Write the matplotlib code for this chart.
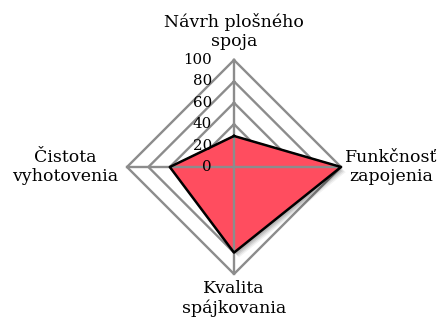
import numpy as np
import matplotlib
matplotlib.use('agg')
import matplotlib.pyplot as plt
from matplotlib.transforms import ScaledTranslation

categories = ['Návrh plošného\nspoja', 'Funkčnosť\nzapojenia', 'Kvalita\nspájkovania', 'Čistota\nvyhotovenia']
values = [29, 100, 80, 60]
grid_levels = [20, 40, 60, 80, 100]
tick_labels = ['0', '20', '40', '60', '80', '100']

plt.rcParams['font.family'] = ['DejaVu Serif']

fig = plt.figure(figsize=(4.4, 3.2), dpi=100)
# centre (234,167) px, r=100 -> 107 px
ax = fig.add_axes([(234 - 107) / 440, (320 - 167 - 107) / 320, 214 / 440, 214 / 320],
                  projection='polar')
ax.set_theta_zero_location('N')
ax.set_theta_direction(-1)
ax.set_ylim(0, 100)
ax.axis('off')

n = len(categories)
angles = np.linspace(0, 2 * np.pi, n, endpoint=False)
closed = np.append(angles, angles[0])

grey = '#8c8c8c'
for lvl in grid_levels:
    ax.plot(closed, [lvl] * (n + 1), color=grey, lw=1.7, zorder=1, clip_on=False)

# soft shadow
vals = np.append(values, values[0])
for k, a in [(5, 0.05), (4, 0.07), (3, 0.09), (2, 0.1)]:
    off = ScaledTranslation(k / 100, -k / 100, fig.dpi_scale_trans)
    ax.fill(closed, vals, color='black', alpha=a, lw=0, zorder=2,
            transform=ax.transData + off, clip_on=False)

ax.fill(closed, vals, color='#ff4d5f', zorder=3, clip_on=False)
ax.plot(closed, vals, color='black', lw=1.8, zorder=5, clip_on=False)

for a in angles:
    ax.plot([a, a], [0, 100], color=grey, lw=1.7, zorder=4, clip_on=False)

for lvl, lab in zip([0] + grid_levels, tick_labels):
    ax.annotate(lab, (0, lvl), xytext=(-16, 0), textcoords='offset points',
                ha='right', va='center', fontsize=10.8, zorder=6, annotation_clip=False)

fs = 12.5
ax.text(angles[0], 109, categories[0], ha='center', va='bottom', fontsize=fs, linespacing=1.15)
ax.text(angles[1], 104, categories[1], ha='left', va='center', fontsize=fs, linespacing=1.15,
        multialignment='center')
ax.text(angles[2], 106, categories[2], ha='center', va='top', fontsize=fs, linespacing=1.15)
ax.text(angles[3], 108, categories[3], ha='right', va='center', fontsize=fs, linespacing=1.15,
        multialignment='center')

fig.savefig('out.png', dpi=100)
